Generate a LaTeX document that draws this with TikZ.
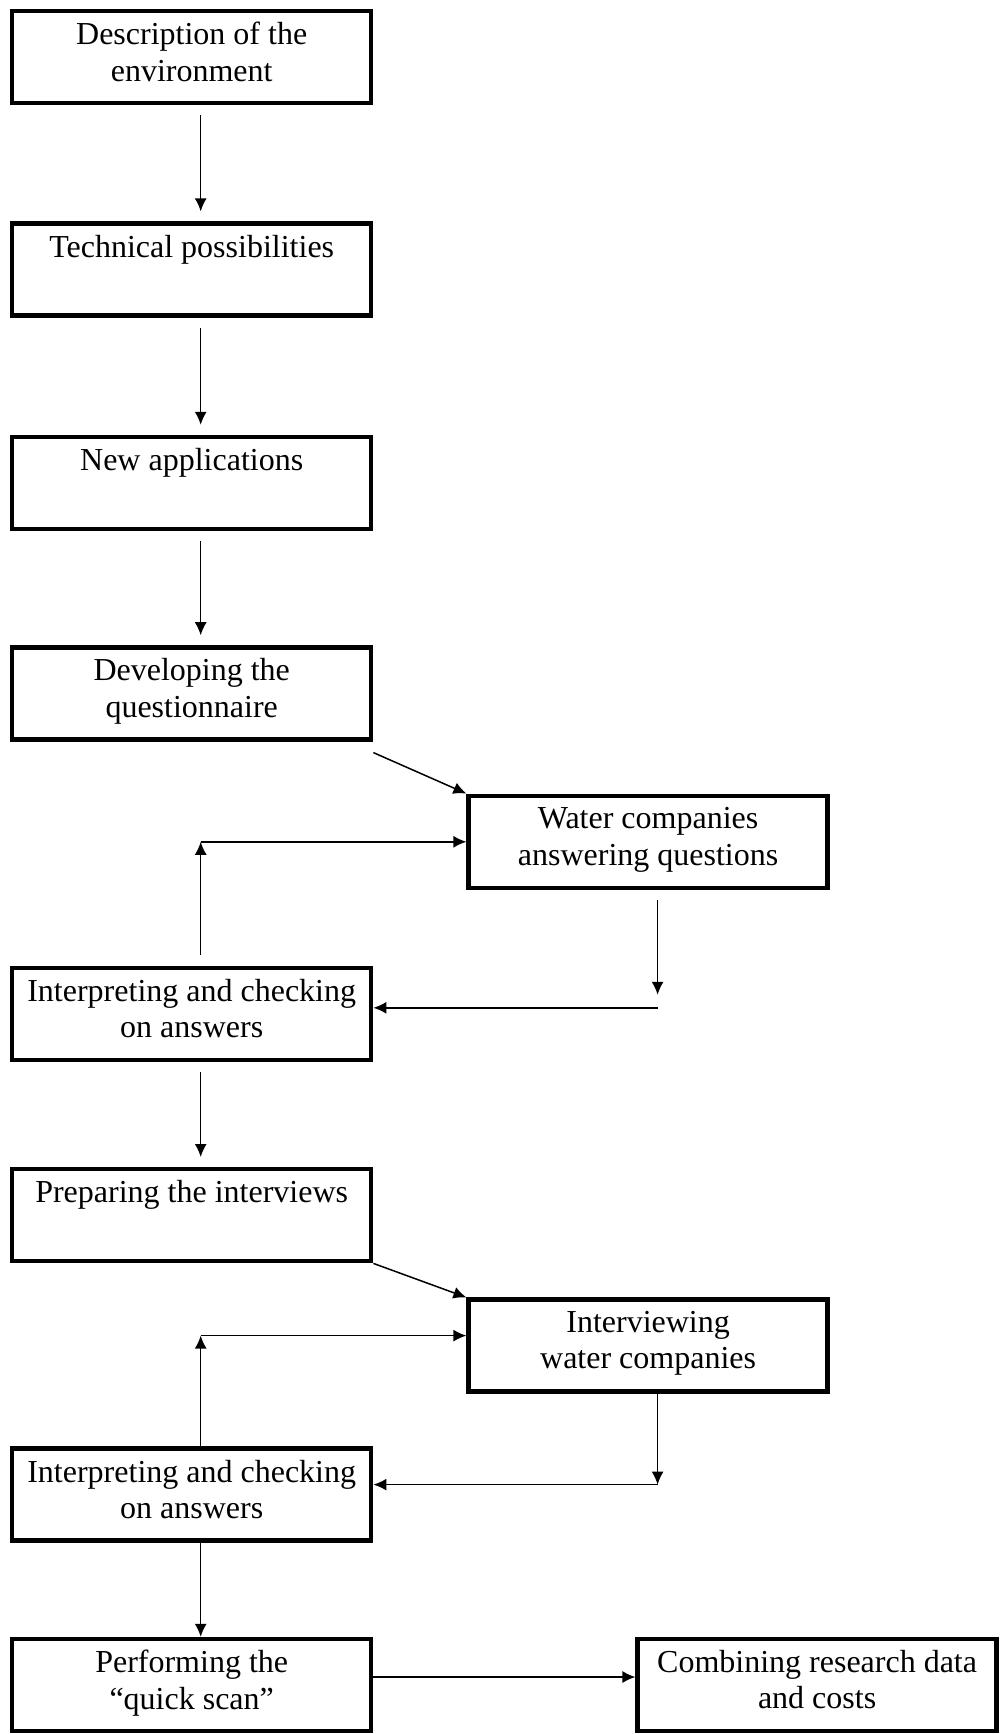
\documentclass[tikz,border=0pt]{standalone}
\usepackage{fontspec}
\setmainfont{Liberation Serif}
\usetikzlibrary{arrows.meta, positioning}

\begin{document}
\begin{tikzpicture}[
    node distance=58pt,
    box/.style={rectangle, draw, line width=2.2pt, minimum width=179.5pt, minimum height=46pt, align=center, font=\fontsize{16}{18.2}\selectfont, execute at begin node=\strut, execute at end node=\strut},
    arrow/.style={-{Latex[length=6.5pt, width=6pt]}, line width=0.75pt},
    gap/.style={shorten <=5pt, shorten >=5pt}
]
\useasboundingbox (0,0) rectangle (500pt,-867pt);

% Main column
\node[box, anchor=north west] (desc) at (5pt,-4.5pt) {Description of the\\environment};
\node[box, below=58pt of desc] (tech) {Technical possibilities\\\strut};
\node[box, below=58.5pt of tech] (apps) {New applications\\\strut};
\node[box, below=57pt of apps] (quest) {Developing the\\questionnaire};
\node[box, below=112pt of quest] (check1) {Interpreting and checking\\on answers};
\node[box, below=52.5pt of check1] (prep) {Preparing the interviews\\\strut};
\node[box, below=91.5pt of prep] (check2) {Interpreting and checking\\on answers};
\node[box, below=47pt of check2] (scan) {Performing the\\“quick scan”};

% Right side
\node[box, below right=26pt and 46.5pt of quest] (answer) {Water companies\\answering questions};
\node[box, below right=17pt and 46.5pt of prep] (interview) {Interviewing\\water companies};
\node[box, right=131pt of scan] (combine) {Combining research data\\and costs};

% Helper points for the loops
\coordinate (c1top) at ([xshift=4.5pt]check1.north);
\coordinate (up1) at (c1top |- answer.west);
\coordinate (a1bot) at ([xshift=4.75pt]answer.south);
\coordinate (c1in) at ([yshift=3pt]check1.east);
\coordinate (dn1) at (a1bot |- c1in);
\coordinate (c2top) at ([xshift=4.5pt]check2.north);
\coordinate (i1in) at ([yshift=5pt]interview.west);
\coordinate (up2) at (c2top |- i1in);
\coordinate (i1bot) at ([xshift=4.75pt]interview.south);
\coordinate (c2in) at ([yshift=5pt]check2.east);
\coordinate (dn2) at (i1bot |- c2in);

% Straight flow
\draw[arrow, gap] ([xshift=4.5pt]desc.south) -- ([xshift=4.5pt]tech.north);
\draw[arrow, gap] ([xshift=4.5pt]tech.south) -- ([xshift=4.5pt]apps.north);
\draw[arrow, gap] ([xshift=4.5pt]apps.south) -- ([xshift=4.5pt]quest.north);
\draw[arrow] ([yshift=-5.5pt]quest.south east) -- (answer.north west);
\draw[arrow, gap] ([xshift=4.5pt]check1.south) -- ([xshift=4.5pt]prep.north);
\draw[arrow] (prep.south east) -- (interview.north west);
\draw[arrow] ([xshift=4.5pt]check2.south) -- ([xshift=4.5pt]scan.north);
\draw[arrow] ([yshift=4pt]scan.east) -- ([yshift=4pt]combine.west);

% First loop
\draw[arrow, shorten <=5.5pt] (c1top) -- (up1);
\draw[arrow] (up1) -- (answer.west);
\draw[arrow, shorten <=5pt] (a1bot) -- ([yshift=6.5pt]dn1);
\draw[arrow] (dn1) -- (c1in);

% Second loop
\draw[arrow] (c2top) -- (up2);
\draw[arrow] (up2) -- (i1in);
\draw[arrow] (i1bot) -- (dn2);
\draw[arrow] (dn2) -- (c2in);

\end{tikzpicture}
\end{document}
